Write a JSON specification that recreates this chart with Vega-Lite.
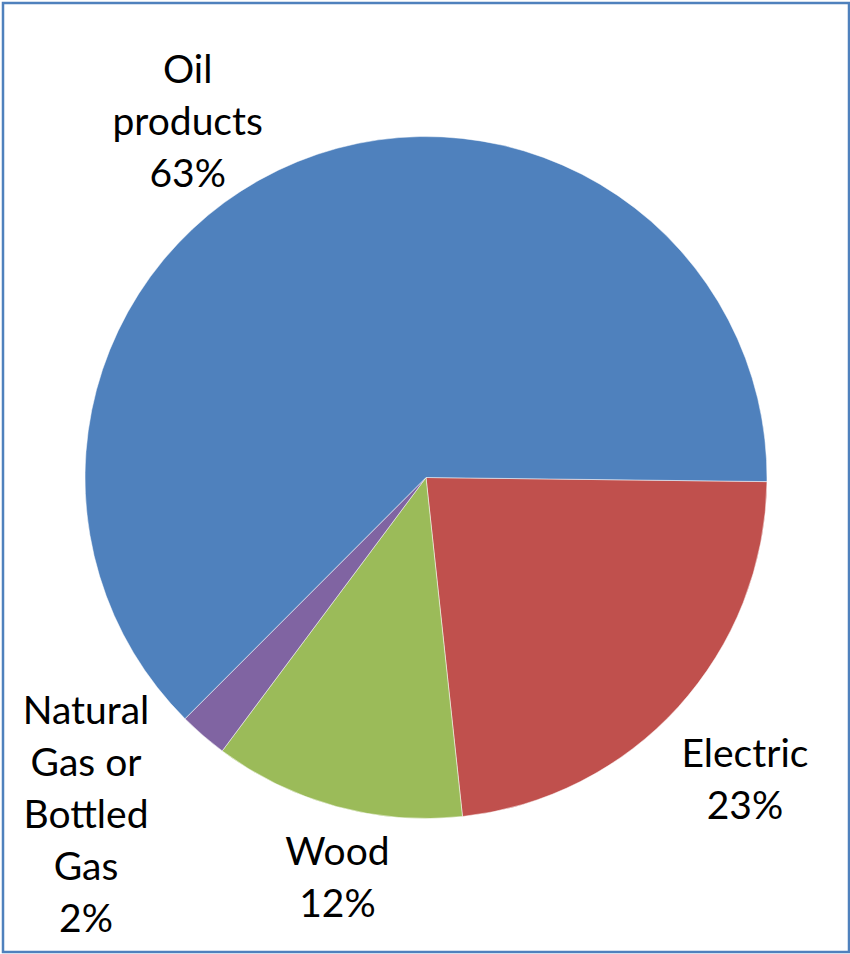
{
  "$schema": "https://vega.github.io/schema/vega-lite/v6.json",
  "autosize": {"type": "none"},
  "width": 846,
  "height": 949,
  "padding": {"left": 3, "top": 3, "right": 1, "bottom": 2},
  "background": "white",
  "view": {"stroke": "#4F81BD", "strokeWidth": 2.5, "fill": "white"},
  "data": {
    "values": [
      {"category": "Electric", "value": 23.1, "idx": 1, "label": "Electric\n23%"},
      {"category": "Wood", "value": 11.9, "idx": 2, "label": "Wood\n12%"},
      {"category": "Natural Gas or Bottled Gas", "value": 2.3, "idx": 3, "label": "Natural\nGas or\nBottled\nGas\n2%"},
      {"category": "Oil products", "value": 62.7, "idx": 4, "label": "Oil\nproducts\n63%"}
    ]
  },
  "encoding": {
    "theta": {"field": "value", "type": "quantitative", "stack": true, "scale": {"range": [1.583, 7.866]}},
    "order": {"field": "idx", "type": "quantitative"}
  },
  "layer": [
    {
      "mark": {"type": "arc", "outerRadius": 341, "stroke": "white", "strokeWidth": 0.5},
      "encoding": {
        "color": {
          "field": "category",
          "type": "nominal",
          "legend": null,
          "scale": {
            "domain": ["Electric", "Wood", "Natural Gas or Bottled Gas", "Oil products"],
            "range": ["#C0504D", "#9BBB59", "#8064A2", "#4F81BD"]
          }
        }
      }
    },
    {
      "mark": {"type": "text", "radius": 427, "dx": 3, "dy": -10, "font": "Lato", "fontSize": 39, "lineHeight": 52, "lineBreak": "\n", "align": "center", "baseline": "middle", "color": "black"},
      "encoding": {"text": {"condition": {"test": "datum.idx != 1", "value": ""}, "field": "label", "type": "nominal"}}
    },
    {
      "mark": {"type": "text", "radius": 427, "dx": 24, "dy": -36, "font": "Lato", "fontSize": 39, "lineHeight": 52, "lineBreak": "\n", "align": "center", "baseline": "middle", "color": "black"},
      "encoding": {"text": {"condition": {"test": "datum.idx != 2", "value": ""}, "field": "label", "type": "nominal"}}
    },
    {
      "mark": {"type": "text", "radius": 425, "dx": -78, "dy": -13, "font": "Lato", "fontSize": 39, "lineHeight": 52, "lineBreak": "\n", "align": "center", "baseline": "middle", "color": "black"},
      "encoding": {"text": {"condition": {"test": "datum.idx != 4", "value": ""}, "field": "label", "type": "nominal"}}
    },
    {
      "mark": {"type": "text", "radius": 445, "dx": -49, "dy": -102, "font": "Lato", "fontSize": 39, "lineHeight": 52, "lineBreak": "\n", "align": "center", "baseline": "middle", "color": "black"},
      "encoding": {"text": {"condition": {"test": "datum.idx != 3", "value": ""}, "field": "label", "type": "nominal"}}
    }
  ]
}
